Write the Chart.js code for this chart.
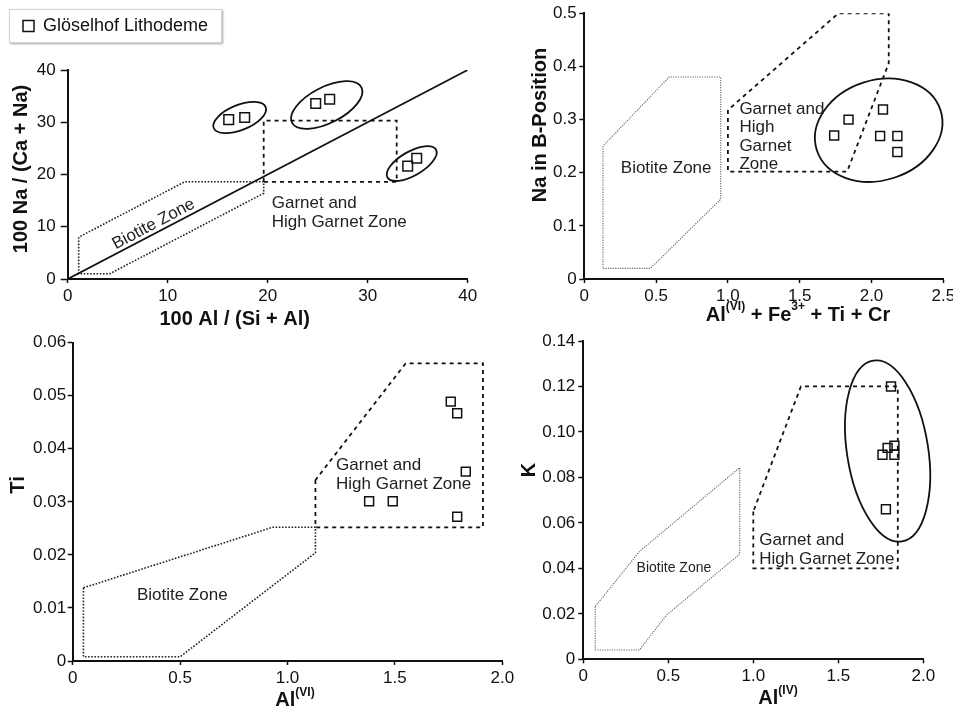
<!DOCTYPE html>
<html>
<head>
<meta charset="utf-8">
<title>Biotite / garnet zone discrimination</title>
<script src="https://cdn.jsdelivr.net/npm/chart.js@4.4.1/dist/chart.umd.min.js"></script>
<style>
  html, body { margin: 0; padding: 0; background: #fff; }
  body { position: relative; width: 953px; height: 706px; overflow: hidden; }
  .panel { position: absolute; }
  .legend-box {
    position: absolute; left: 9px; top: 9px; width: 211px; height: 32px;
    border: 1px solid #d2d2d2; box-shadow: 1px 1px 2px rgba(0,0,0,.35);
  }
</style>
</head>
<body>
<div class="legend-box"></div>
<canvas id="c1" class="panel" width="480" height="330" style="left:0;top:0"></canvas>
<canvas id="c2" class="panel" width="473" height="330" style="left:480px;top:0"></canvas>
<canvas id="c3" class="panel" width="520" height="380" style="left:0;top:330px"></canvas>
<canvas id="c4" class="panel" width="433" height="380" style="left:520px;top:330px"></canvas>
<script>
const sampleLabel = 'Glöselhof Lithodeme';

// panel 1: 100 Na/(Ca+Na) vs 100 Al/(Si+Al)
const p1Samples = [[16.1, 30.5], [17.7, 30.9], [24.8, 33.6], [26.2, 34.4], [34.0, 21.6], [34.9, 23.1]];
const p1Biotite = [[1.1, 8.0], [1.1, 1.0], [4.2, 1.0], [19.6, 16.4], [19.6, 18.6], [11.7, 18.6], [1.1, 8.0]];
const p1Garnet  = [[19.6, 18.6], [19.6, 30.3], [32.9, 30.3], [32.9, 18.6], [19.6, 18.6]];
const p1Divide  = [[0, 0], [40, 40]];
const p1XTicks  = ['0', '10', '20', '30', '40'];
const p1YTicks  = ['0', '10', '20', '30', '40'];

// panel 2: Na in B-position vs Al(VI)+Fe3++Ti+Cr
const p2Samples = [[1.74, 0.270], [1.84, 0.300], [2.08, 0.319], [2.06, 0.269], [2.18, 0.269], [2.18, 0.239]];
const p2Biotite = [[0.13, 0.25], [0.13, 0.02], [0.46, 0.02], [0.95, 0.15], [0.95, 0.38], [0.59, 0.38], [0.13, 0.25]];
const p2Garnet  = [[1.0, 0.318], [1.0, 0.202], [1.83, 0.202], [2.12, 0.406], [2.12, 0.5], [1.77, 0.5], [1.0, 0.318]];
const p2XTicks  = ['0', '0.5', '1.0', '1.5', '2.0', '2.5'];
const p2YTicks  = ['0', '0.1', '0.2', '0.3', '0.4', '0.5'];

// panel 3: Ti vs Al(VI)
const p3Samples = [[1.38, 0.0301], [1.49, 0.0301], [1.76, 0.0489], [1.79, 0.0467], [1.83, 0.0357], [1.79, 0.0272]];
const p3Biotite = [[0.05, 0.0138], [0.05, 0.0008], [0.50, 0.0008], [1.13, 0.0204], [1.13, 0.0252], [0.93, 0.0252], [0.05, 0.0138]];
const p3Garnet  = [[1.13, 0.0341], [1.13, 0.0252], [1.91, 0.0252], [1.91, 0.0561], [1.55, 0.0561], [1.13, 0.0341]];
const p3XTicks  = ['0', '0.5', '1.0', '1.5', '2.0'];
const p3YTicks  = ['0', '0.01', '0.02', '0.03', '0.04', '0.05', '0.06'];

// panel 4: K vs Al(IV)
const p4Samples = [[1.81, 0.120], [1.76, 0.090], [1.79, 0.093], [1.83, 0.094], [1.83, 0.090], [1.78, 0.066]];
const p4Biotite = [[0.07, 0.0232], [0.07, 0.0041], [0.33, 0.0041], [0.49, 0.0195], [0.92, 0.0463], [0.92, 0.0843], [0.33, 0.0474], [0.07, 0.0232]];
const p4Garnet  = [[1.0, 0.065], [1.0, 0.040], [1.85, 0.040], [1.85, 0.120], [1.28, 0.120], [1.0, 0.065]];
const p4XTicks  = ['0', '0.5', '1.0', '1.5', '2.0'];
const p4YTicks  = ['0', '0.02', '0.04', '0.06', '0.08', '0.10', '0.12', '0.14'];

const ink = '#111';
const family = '"Liberation Sans", Arial, Helvetica, sans-serif';
Chart.defaults.font.family = family;
Chart.defaults.color = ink;

const toXY = (pts) => pts.map(([x, y]) => ({ x, y }));

// hand drawn group outlines: centre in data units, radii in px, tilt in degrees
const ellipsePlugin = {
  id: 'ellipses',
  afterDatasetsDraw(chart, args, opts) {
    const { ctx, scales: { x, y } } = chart;
    ctx.save();
    ctx.strokeStyle = ink;
    ctx.lineWidth = 1.8;
    for (const e of opts.items || []) {
      ctx.beginPath();
      ctx.ellipse(x.getPixelForValue(e.x), y.getPixelForValue(e.y), e.rx, e.ry, e.rot * Math.PI / 180, 0, Math.PI * 2);
      ctx.stroke();
    }
    ctx.restore();
  }
};

// zone names placed at data coordinates
const zoneTextPlugin = {
  id: 'zoneText',
  afterDatasetsDraw(chart, args, opts) {
    const { ctx, scales: { x, y } } = chart;
    ctx.save();
    ctx.fillStyle = '#222';
    ctx.textBaseline = 'middle';
    for (const t of opts.items || []) {
      ctx.font = `${t.size || 17}px ${family}`;
      ctx.textAlign = t.align || 'left';
      ctx.save();
      ctx.translate(x.getPixelForValue(t.x), y.getPixelForValue(t.y));
      ctx.rotate((t.rotate || 0) * Math.PI / 180);
      t.lines.forEach((line, i) => ctx.fillText(line, 0, i * (t.lh || 19)));
      ctx.restore();
    }
    ctx.restore();
  }
};

// axis titles with superscripts; anchor is offset from the chart area's bottom-left corner
const axisTitlePlugin = {
  id: 'axisTitles',
  afterDraw(chart, args, opts) {
    const { ctx, chartArea } = chart;
    const base = `bold 20px ${family}`;
    const sup = `bold 12px ${family}`;
    ctx.save();
    ctx.fillStyle = ink;
    ctx.textBaseline = 'alphabetic';
    ctx.textAlign = 'left';
    for (const t of opts.items || []) {
      const widths = t.parts.map((p) => { ctx.font = p.sup ? sup : base; return ctx.measureText(p.text).width; });
      const total = widths.reduce((a, b) => a + b, 0);
      ctx.save();
      ctx.translate(chartArea.left + t.ox, chartArea.bottom + t.oy);
      if (t.vertical) ctx.rotate(-Math.PI / 2);
      let cx = -total / 2;
      t.parts.forEach((p, i) => {
        ctx.font = p.sup ? sup : base;
        ctx.fillText(p.text, cx, p.sup ? -10.5 : 0);
        cx += widths[i];
      });
      ctx.restore();
    }
    ctx.restore();
  }
};

// extra room between the legend and the plot
const legendGap = {
  id: 'legendGap',
  beforeInit(chart) {
    const fit = chart.legend.fit;
    chart.legend.fit = function () {
      fit.bind(chart.legend)();
      this.height += chart.options.plugins.legendGap.gap;
    };
  }
};

function zone(data, dash, width, color) {
  return {
    label: 'zone', data: toXY(data), showLine: true, fill: false, tension: 0,
    borderColor: color, borderWidth: width, borderDash: dash, pointRadius: 0, order: 2
  };
}

function axis(ticks, fitSize, horizontal, tick) {
  return {
    type: 'linear',
    min: +ticks[0],
    max: +ticks[ticks.length - 1],
    afterBuildTicks: (s) => { s.ticks = ticks.map((t) => ({ value: +t })); },
    afterFit: (s) => {
      if (horizontal) { s.height = fitSize; s.paddingLeft = 0; s.paddingRight = 0; }
      else { s.width = fitSize; s.paddingTop = 0; s.paddingBottom = 0; }
    },
    ticks: {
      callback: (v, i) => ticks[i],
      autoSkip: false, maxRotation: 0,
      padding: tick[1],
      font: { size: 17 }, color: ink
    },
    grid: { drawOnChartArea: false, tickLength: tick[0], tickColor: ink, tickWidth: 1.5 },
    border: { color: ink, width: 2 },
    title: { display: false }
  };
}

function panel(id, p) {
  const datasets = [
    {
      label: sampleLabel, data: toXY(p.samples), pointStyle: 'rect', pointRadius: p.r || 6.3,
      borderColor: ink, borderWidth: 1.5, backgroundColor: 'rgba(0,0,0,0)', order: 0
    },
    zone(p.garnet, [4, 4], 1.8, ink),
    p.biotiteStyle === 'light' ? zone(p.biotite, [1.2, 1.2], 1.1, '#666') : zone(p.biotite, [1.6, 1.6], 1.6, '#222')
  ].concat(p.extra || []);

  const plugins = [ellipsePlugin, zoneTextPlugin, axisTitlePlugin];
  if (p.legend) plugins.unshift(legendGap);

  return new Chart(document.getElementById(id), {
    type: 'scatter',
    data: { datasets },
    options: {
      responsive: false,
      animation: false,
      events: [],
      layout: { padding: p.padding },
      scales: {
        x: axis(p.xTicks, p.xH, true, p.xTick || [4, 3]),
        y: axis(p.yTicks, p.yW, false, p.yTick)
      },
      plugins: {
        tooltip: { enabled: false },
        legend: p.legend ? {
          display: true, position: 'top', align: 'start',
          labels: {
            usePointStyle: true, pointStyle: 'rect', boxWidth: 11, boxHeight: 11, padding: 14,
            font: { size: 18 }, color: ink,
            filter: (item) => item.text === sampleLabel
          }
        } : { display: false },
        legendGap: { gap: p.legendGap || 0 },
        ellipses: { items: p.ellipses || [] },
        zoneText: { items: p.texts || [] },
        axisTitles: { items: p.titles }
      }
    },
    plugins
  });
}

panel('c1', {
  samples: p1Samples, biotite: p1Biotite, garnet: p1Garnet, r: 6.8,
  extra: [{ label: 'divide', data: toXY(p1Divide), showLine: true, borderColor: ink, borderWidth: 1.8, pointRadius: 0, order: 1 }],
  xTicks: p1XTicks, yTicks: p1YTicks, yTick: [7, 5],
  padding: { left: 9, top: 3, right: 12.3, bottom: 1.6 }, yW: 58.7, xH: 49.4,
  legend: true, legendGap: 25,
  titles: [
    { parts: [{ text: '100 Al / (Si + Al)' }], ox: 167, oy: 46 },
    { parts: [{ text: '100 Na / (Ca + Na)' }], ox: -40.7, oy: -110, vertical: true }
  ],
  ellipses: [
    { x: 17.2, y: 30.9, rx: 28, ry: 12.5, rot: -22 },
    { x: 25.9, y: 33.3, rx: 39, ry: 18, rot: -27 },
    { x: 34.4, y: 22.1, rx: 28, ry: 12, rot: -30 }
  ],
  texts: [
    { x: 8.6, y: 10.5, lines: ['Biotite Zone'], align: 'center', rotate: -28 },
    { x: 20.4, y: 14.5, lines: ['Garnet and', 'High Garnet Zone'] }
  ]
});

panel('c2', {
  samples: p2Samples, biotite: p2Biotite, garnet: p2Garnet, biotiteStyle: 'light',
  xTicks: p2XTicks, yTicks: p2YTicks, yTick: [5, 2.6],
  padding: { left: 46.6, top: 13.3, right: 9.7, bottom: 3.6 }, yW: 57.7, xH: 47.4,
  titles: [
    { parts: [{ text: 'Al' }, { text: '(VI)', sup: true }, { text: ' + Fe' }, { text: '3+', sup: true }, { text: ' + Ti + Cr' }], ox: 213.7, oy: 41.7 },
    { parts: [{ text: 'Na in B-Position' }], ox: -38.8, oy: -154, vertical: true }
  ],
  ellipses: [{ x: 2.05, y: 0.28, rx: 65, ry: 50, rot: -18 }],
  texts: [
    { x: 0.57, y: 0.208, lines: ['Biotite Zone'], align: 'center' },
    { x: 1.08, y: 0.320, lines: ['Garnet and', 'High', 'Garnet', 'Zone'], lh: 18.5 }
  ]
});

panel('c3', {
  samples: p3Samples, biotite: p3Biotite, garnet: p3Garnet,
  xTicks: p3XTicks, yTicks: p3YTicks, yTick: [5, 1.5],
  padding: { left: 5.6, top: 12.7, right: 17.7, bottom: 0.6 }, yW: 67.1, xH: 48.4,
  titles: [
    { parts: [{ text: 'Al' }, { text: '(VI)', sup: true }], ox: 222.3, oy: 45 },
    { parts: [{ text: 'Ti' }], ox: -48.7, oy: -176, vertical: true }
  ],
  texts: [
    { x: 0.51, y: 0.0123, lines: ['Biotite Zone'], align: 'center' },
    { x: 1.226, y: 0.0369, lines: ['Garnet and', 'High Garnet Zone'] }
  ]
});

panel('c4', {
  samples: p4Samples, biotite: p4Biotite, garnet: p4Garnet, biotiteStyle: 'light',
  xTicks: p4XTicks, yTicks: p4YTicks, yTick: [5, 3],
  padding: { left: 0, top: 11, right: 29.7, bottom: 0.6 }, yW: 63.3, xH: 50.1,
  titles: [
    { parts: [{ text: 'Al' }, { text: '(IV)', sup: true }], ox: 194.7, oy: 44.7 },
    { parts: [{ text: 'K' }], ox: -48.3, oy: -189.3, vertical: true }
  ],
  ellipses: [{ x: 1.79, y: 0.0916, rx: 91.5, ry: 40.6, rot: 81 }],
  texts: [
    { x: 0.533, y: 0.0403, lines: ['Biotite Zone'], align: 'center', size: 14 },
    { x: 1.035, y: 0.0525, lines: ['Garnet and', 'High Garnet Zone'] }
  ]
});
</script>
</body>
</html>
